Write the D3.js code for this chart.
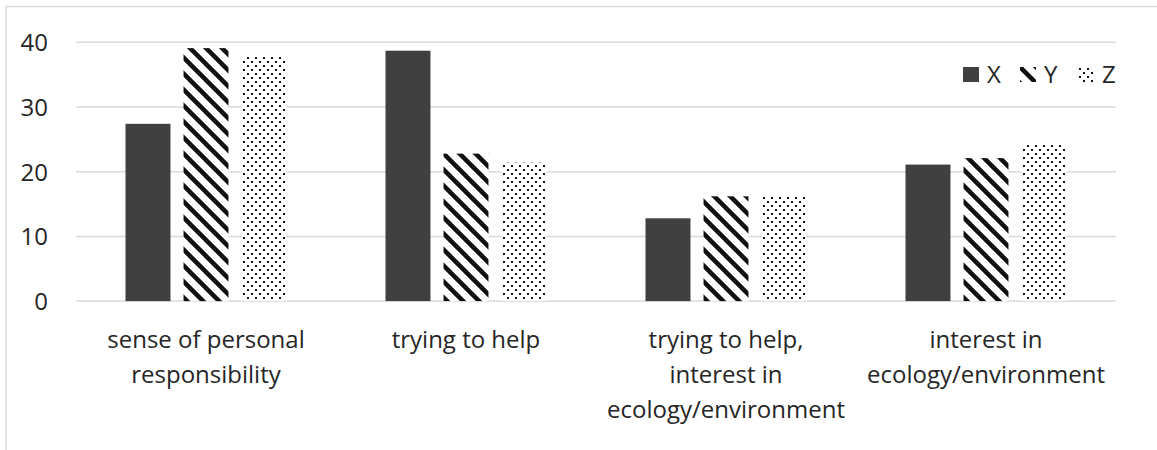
<!DOCTYPE html>
<html><head><meta charset="utf-8">
<script src="https://cdn.jsdelivr.net/npm/d3@7"></script>
<style>body{margin:0;background:#fff;} text{font-family:"Open Sans",sans-serif;}</style>
</head><body>
<svg id="c" width="1157" height="450"></svg>
<script>
const categories = [["sense of personal","responsibility"],["trying to help"],["trying to help,","interest in","ecology/environment"],["interest in","ecology/environment"]];
const seriesNames = ["X","Y","Z"];
const xValues = [27.4, 38.7, 12.8, 21.1];
const yValues = [39.1, 22.8, 16.2, 22.1];
const zValues = [37.9, 21.4, 16.4, 24.4];
const yTicks = [0,10,20,30,40];

(function(){
const svg = d3.select("#c");
const defs = svg.append("defs");
const ps = defs.append("pattern").attr("id","stripes").attr("patternUnits","userSpaceOnUse").attr("width",16).attr("height",16);
ps.append("rect").attr("width",16).attr("height",16).attr("fill","#fff");
ps.append("path").attr("d","M-4,-4 L20,20 M-20,-4 L4,20 M12,-4 L36,20").attr("stroke","#111").attr("stroke-width",4.5);
const pd = defs.append("pattern").attr("id","dots").attr("patternUnits","userSpaceOnUse").attr("width",8).attr("height",8);
pd.append("rect").attr("width",8).attr("height",8).attr("fill","#fff");
pd.append("rect").attr("x",1).attr("y",1).attr("width",2).attr("height",2).attr("fill","#111");
pd.append("rect").attr("x",5).attr("y",5).attr("width",2).attr("height",2).attr("fill","#111");

const fills = ["#404040","url(#stripes)","url(#dots)"];

svg.append("path").attr("d","M6,450 L6,6.5 L1157,6.5").attr("fill","none").attr("stroke","#d9d9d9").attr("stroke-width",1.5);

const pl=76, pr=1116, pt=42.3, pb=301.1;
const y = d3.scaleLinear().domain([0,40]).range([pb, pt]);
const x0 = d3.scaleBand().domain(d3.range(categories.length)).range([pl,pr]);
const x1 = d3.scaleBand().domain(seriesNames).range([-80.5, 80.5]).paddingInner(0.225);

svg.append("g").selectAll("line").data(yTicks).join("line")
  .attr("x1",pl).attr("x2",pr).attr("y1",d=>y(d)).attr("y2",d=>y(d))
  .attr("stroke","#d9d9d9").attr("stroke-width",1.5);

const yAxis = d3.axisLeft(y).tickValues(yTicks).tickSize(0).tickPadding(0);
const ya = svg.append("g").attr("transform","translate(48,0)").call(yAxis);
ya.select(".domain").remove();
ya.selectAll("text").attr("font-size",24).attr("fill","#262626").attr("font-family","Open Sans").attr("dy","0.35em");

const data = categories.map((c,i)=>({i, vals:[xValues[i],yValues[i],zValues[i]]}));
const groups = svg.append("g").selectAll("g").data(data).join("g")
  .attr("transform",d=>`translate(${x0(d.i)+x0.bandwidth()/2},0)`);
groups.selectAll("rect").data(d=>d.vals.map((v,k)=>({k,v}))).join("rect")
  .attr("x",d=>x1(seriesNames[d.k])).attr("width",x1.bandwidth())
  .attr("y",d=>y(d.v)).attr("height",d=>y(0)-y(d.v))
  .attr("fill",d=>fills[d.k]);

const lab = svg.append("g").selectAll("text").data(categories).join("text")
  .attr("x",(d,i)=>x0(i)+x0.bandwidth()/2).attr("y",348)
  .attr("text-anchor","middle").attr("font-size",24).attr("fill","#262626");
lab.selectAll("tspan").data(d=>d).join("tspan")
  .attr("x",function(){return this.parentNode.getAttribute("x");})
  .attr("dy",(d,j)=>j===0?0:35).text(d=>d);

const legX = [963, 1020, 1078];
const lg = svg.append("g").selectAll("g").data(seriesNames).join("g")
  .attr("transform",(d,i)=>`translate(${legX[i]},67)`);
lg.append("rect").attr("width",16).attr("height",15).attr("fill",(d,i)=>fills[i]);
lg.append("text").attr("x",24).attr("y",7.5).attr("dy","0.35em").attr("font-size",24).attr("fill","#262626").text(d=>d);
})();
</script>
</body></html>
